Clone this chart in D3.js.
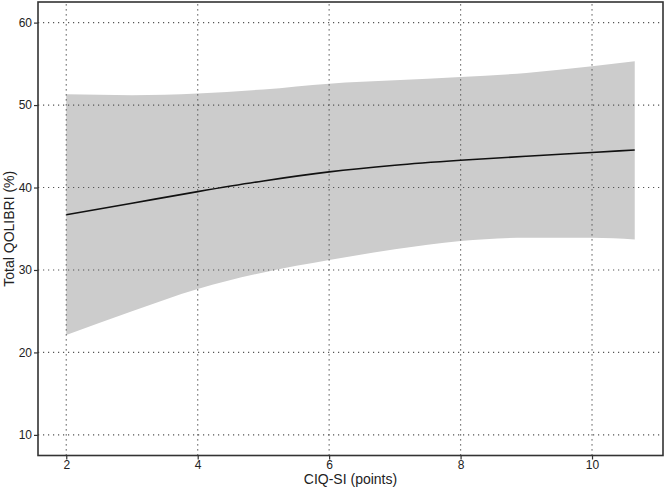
<!DOCTYPE html>
<html>
<head>
<meta charset="utf-8">
<script src="https://cdn.jsdelivr.net/npm/d3@7"></script>
<style>
  body { margin: 0; background: #fff; }
  svg { display: block; font-family: "Liberation Sans", Arial, sans-serif; }
</style>
</head>
<body>
<svg></svg>
<script>
var WIDTH = 666;
var HEIGHT = 489;

// values
var xValues = [2, 3, 4, 5, 6, 7, 8, 9, 10, 10.65];
var fitValues = [36.7, 38.1, 39.5, 40.8, 41.9, 42.7, 43.3, 43.8, 44.25, 44.55];
var upperValues = [51.3, 51.2, 51.4, 51.9, 52.6, 53.0, 53.4, 53.9, 54.7, 55.3];
var lowerValues = [22.1, 25.0, 27.7, 29.7, 31.2, 32.5, 33.5, 33.9, 33.9, 33.7];

var xTicks = [2, 4, 6, 8, 10];
var yTicks = [10, 20, 30, 40, 50, 60];

var margin = {left: 38, right: 3, top: 2, bottom: 33.5};

var svg = d3.select("svg")
    .attr("width", WIDTH)
    .attr("height", HEIGHT);

var x = d3.scaleLinear()
    .domain([1.57, 11.08])
    .range([margin.left, WIDTH - margin.right]);

var y = d3.scaleLinear()
    .domain([7.5, 62.5])
    .range([HEIGHT - margin.bottom, margin.top]);

var rows = xValues.map(function(d, i) {
    return {x: d, fit: fitValues[i], lo: lowerValues[i], hi: upperValues[i]};
});

// confidence band
var band = d3.area()
    .x(function(d) { return x(d.x); })
    .y0(function(d) { return y(d.lo); })
    .y1(function(d) { return y(d.hi); })
    .curve(d3.curveMonotoneX);

svg.append("path")
    .datum(rows)
    .attr("d", band)
    .attr("fill", "#cccccc");

// grid
var grid = svg.append("g")
    .attr("stroke", "#555")
    .attr("stroke-width", 1.2)
    .attr("stroke-dasharray", "1.2,3.8");

grid.selectAll(".gx")
    .data(xTicks)
    .enter()
    .append("line")
    .attr("x1", function(d) { return x(d); })
    .attr("x2", function(d) { return x(d); })
    .attr("y1", y.range()[0])
    .attr("y2", y.range()[1]);

grid.selectAll(".gy")
    .data(yTicks)
    .enter()
    .append("line")
    .attr("x1", x.range()[0])
    .attr("x2", x.range()[1])
    .attr("y1", function(d) { return y(d); })
    .attr("y2", function(d) { return y(d); });

// fitted line
var line = d3.line()
    .x(function(d) { return x(d.x); })
    .y(function(d) { return y(d.fit); })
    .curve(d3.curveMonotoneX);

svg.append("path")
    .datum(rows)
    .attr("d", line)
    .attr("fill", "none")
    .attr("stroke", "#111")
    .attr("stroke-width", 1.6);

// axes
var xAxis = svg.append("g")
    .attr("transform", "translate(0," + y.range()[0] + ")")
    .call(d3.axisBottom(x).tickValues(xTicks).tickSize(4).tickPadding(1));

var yAxis = svg.append("g")
    .attr("transform", "translate(" + x.range()[0] + ",0)")
    .call(d3.axisLeft(y).tickValues(yTicks).tickSize(4).tickPadding(2));

[xAxis, yAxis].forEach(function(g) {
    g.select(".domain").remove();
    g.selectAll("line").attr("stroke", "#333").attr("stroke-width", 1.2);
    g.selectAll("text")
        .attr("fill", "#222")
        .style("font-size", "12px")
        .style("font-family", "Liberation Sans, Arial, sans-serif");
});

// frame
svg.append("rect")
    .attr("x", x.range()[0])
    .attr("y", y.range()[1])
    .attr("width", x.range()[1] - x.range()[0])
    .attr("height", y.range()[0] - y.range()[1])
    .attr("fill", "none")
    .attr("stroke", "#333")
    .attr("stroke-width", 1.6);

// titles
svg.append("text")
    .attr("x", (x.range()[0] + x.range()[1]) / 2)
    .attr("y", 484)
    .attr("text-anchor", "middle")
    .attr("fill", "#222")
    .style("font-size", "14px")
    .text("CIQ-SI (points)");

svg.append("text")
    .attr("transform", "translate(14," + (y.range()[0] + y.range()[1]) / 2 + ") rotate(-90)")
    .attr("text-anchor", "middle")
    .attr("fill", "#222")
    .style("font-size", "14px")
    .text("Total QOLIBRI (%)");
</script>
</body>
</html>
